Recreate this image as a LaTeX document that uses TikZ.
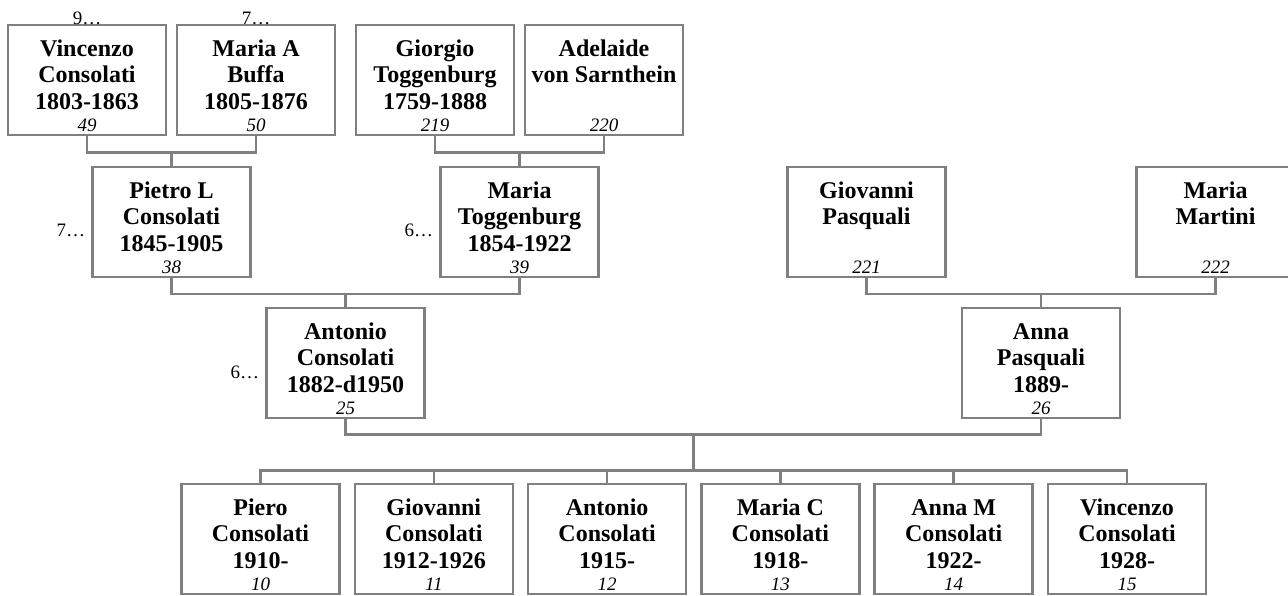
\documentclass[tikz,border=0pt]{standalone}
\usepackage{fontspec}
\setmainfont{Liberation Serif}
\usetikzlibrary{calc}
\definecolor{linegray}{RGB}{128,128,128}
\newcommand\pnamefont{\bfseries\fontsize{24}{26.5}\selectfont\lineskiplimit=-20pt}
\newcommand\pnumfont{\itshape\fontsize{19}{22}\selectfont}
\newcommand\plblfont{\fontsize{19}{22}\selectfont}
\newcommand\person[5]{%
  \node[box] (#1) at (#2,#3) {};
  \node[nm] (#1-n) at ([yshift=-13.75pt]#1.north) {\strut #4};
  \node[num] (#1-i) at ([yshift=5pt]#1.south) {#5};}
\begin{document}
\begin{tikzpicture}[x=1pt,y=-1pt,
  box/.style={draw=linegray, line width=2.5pt, rectangle, minimum width=158pt, minimum height=110pt, inner sep=0pt},
  nm/.style={anchor=north, inner sep=0pt, align=center, font=\pnamefont},
  num/.style={anchor=base, inner sep=0pt, font=\pnumfont},
  lbl/.style={inner sep=0pt, font=\plblfont},
  conn/.style={draw=linegray, line width=2.5pt}]
\useasboundingbox (0,0) rectangle (1288,595);

% generation 1
\person{b1}{87}{80}{Vincenzo\\Consolati\\1803-1863}{49}
\person{b2}{256}{80}{Maria A\\Buffa\\1805-1876}{50}
\person{b3}{435}{80}{Giorgio\\Toggenburg\\1759-1888}{219}
\person{b4}{604}{80}{Adelaide\\von Sarnthein}{220}
% generation 2
\person{pl}{171.5}{222}{Pietro L\\Consolati\\1845-1905}{38}
\person{mt}{519.5}{222}{Maria\\Toggenburg\\1854-1922}{39}
\person{gp}{866.5}{222}{Giovanni\\Pasquali}{221}
\person{mm}{1215.5}{222}{Maria\\Martini}{222}
% generation 3
\person{ac}{345.5}{363}{Antonio\\Consolati\\1882-d1950}{25}
\person{ap}{1041}{363}{Anna\\Pasquali\\1889-}{26}
% children
\person{c1}{260.5}{539}{Piero\\Consolati\\1910-}{10}
\person{c2}{433.8}{539}{Giovanni\\Consolati\\1912-1926}{11}
\person{c3}{607.1}{539}{Antonio\\Consolati\\1915-}{12}
\person{c4}{780.4}{539}{Maria C\\Consolati\\1918-}{13}
\person{c5}{953.7}{539}{Anna M\\Consolati\\1922-}{14}
\person{c6}{1127}{539}{Vincenzo\\Consolati\\1928-}{15}

% more-ancestors labels
\node[lbl, anchor=base] (l1) at ([yshift=-1pt]b1.north) {9…};
\node[lbl, anchor=base] (l2) at ([yshift=-1pt]b2.north) {7…};
\node[lbl, anchor=base east] (l3) at ([xshift=-6pt,yshift=-14.5pt]pl.west) {7…};
\node[lbl, anchor=base east] (l4) at ([xshift=-6pt,yshift=-14.5pt]mt.west) {6…};
\node[lbl, anchor=base east] (l5) at ([xshift=-6pt,yshift=-15pt]ac.west) {6…};

% connectors
\coordinate (j1) at ($(b1.south)!.5!(b2.south)+(0,16)$);
\draw[conn] (b1.south) |- (j1) -| (b2.south);
\draw[conn] (j1) -- (pl.north);
\coordinate (j2) at ($(b3.south)!.5!(b4.south)+(0,16)$);
\draw[conn] (b3.south) |- (j2) -| (b4.south);
\draw[conn] (j2) -- (mt.north);
\coordinate (j3) at ($(pl.south)!.5!(mt.south)+(0,15.5)$);
\draw[conn] (pl.south) |- (j3) -| (mt.south);
\draw[conn] (j3) -- (ac.north);
\coordinate (j4) at ($(gp.south)!.5!(mm.south)+(0,15.5)$);
\draw[conn] (gp.south) |- (j4) -| (mm.south);
\draw[conn] (j4) -- (ap.north);
\coordinate (j5) at ($(ac.south)!.5!(ap.south)+(0,15)$);
\draw[conn] (ac.south) |- (j5) -| (ap.south);
\coordinate (sb) at ($(j5)+(0,36)$);
\draw[conn] (j5) -- (sb);
\draw[conn] (c1.north) |- (sb) -| (c6.north);
\foreach \c in {c2,c3,c4,c5} \draw[conn] (\c.north) -- (\c.north |- sb);
\end{tikzpicture}
\end{document}
